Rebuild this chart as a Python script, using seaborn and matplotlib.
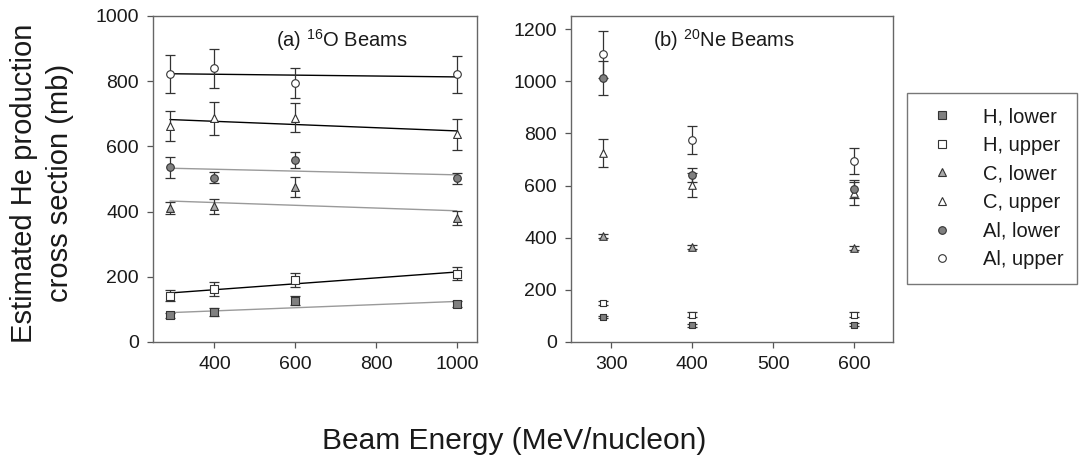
import numpy as np
import pandas as pd
import matplotlib
matplotlib.use("Agg")
import matplotlib.pyplot as plt
import seaborn as sns
from matplotlib.lines import Line2D

# ---- data ----
energy_o = [290, 400, 600, 1000]
o_h_lower = [82, 91, 126, 116]
o_h_lower_err = [8, 12, 14, 10]
o_h_upper = [142, 162, 191, 209]
o_h_upper_err = [17, 21, 22, 20]
o_c_lower = [411, 416, 475, 380]
o_c_lower_err = [17, 22, 30, 21]
o_c_upper = [663, 686, 688, 637]
o_c_upper_err = [45, 51, 45, 48]
o_al_lower = [536, 504, 558, 502]
o_al_lower_err = [33, 17, 24, 16]
o_al_upper = [821, 840, 794, 821]
o_al_upper_err = [58, 60, 45, 57]

energy_ne = [290, 400, 600]
ne_h_lower = [96, 64, 66]
ne_h_lower_err = [5, 5, 5]
ne_h_upper = [151, 105, 105]
ne_h_upper_err = [8, 10, 10]
ne_c_lower = [407, 364, 360]
ne_c_lower_err = [8, 8, 8]
ne_c_upper = [726, 602, 570]
ne_c_upper_err = [54, 45, 44]
ne_al_lower = [1012, 640, 588]
ne_al_lower_err = [65, 28, 35]
ne_al_upper = [1104, 775, 694]
ne_al_upper_err = [90, 53, 48]

series_names = ["H, lower", "H, upper", "C, lower", "C, upper", "Al, lower", "Al, upper"]

def long_df(energy, vals, errs):
    rows = []
    for name, v, e in zip(series_names, vals, errs):
        for x, y, er in zip(energy, v, e):
            rows.append({"energy": x, "value": y, "err": er, "series": name})
    return pd.DataFrame(rows)

df_o = long_df(energy_o,
               [o_h_lower, o_h_upper, o_c_lower, o_c_upper, o_al_lower, o_al_upper],
               [o_h_lower_err, o_h_upper_err, o_c_lower_err, o_c_upper_err, o_al_lower_err, o_al_upper_err])
df_ne = long_df(energy_ne,
                [ne_h_lower, ne_h_upper, ne_c_lower, ne_c_upper, ne_al_lower, ne_al_upper],
                [ne_h_lower_err, ne_h_upper_err, ne_c_lower_err, ne_c_upper_err, ne_al_lower_err, ne_al_upper_err])

# ---- style ----
sns.set_theme(style="ticks")
plt.rcParams["font.family"] = ["Liberation Sans", "DejaVu Sans"]
plt.rcParams["mathtext.fontset"] = "custom"
plt.rcParams["mathtext.rm"] = "Liberation Sans"
plt.rcParams["mathtext.it"] = "Liberation Sans:italic"
plt.rcParams["mathtext.bf"] = "Liberation Sans:bold"

markers = {"H": "s", "C": "^", "Al": "o"}
fills = {"H": "#808080", "C": "#a8a8a8", "Al": "#808080"}
style = {}
for n in series_names:
    el, kind = n.split(", ")
    style[n] = dict(marker=markers[el],
                    face=fills[el] if kind == "lower" else "white",
                    edge="#333333",
                    line="#000000" if kind == "upper" else "#9a9a9a",
                    ecolor="#333333")

fig = plt.figure(figsize=(10.86, 4.57), dpi=100)
ax1 = fig.add_axes([153/1086, 1-342/457, 324/1086, 326/457])
ax2 = fig.add_axes([571/1086, 1-342/457, 322/1086, 326/457])

def draw(ax, df, fit, sizes):
    for n in series_names:
        d = df[df["series"] == n]
        s = style[n]
        el = n.split(", ")[0]
        if fit:
            sns.regplot(data=d, x="energy", y="value", ax=ax, scatter=False, ci=None,
                        line_kws=dict(color=s["line"], lw=1.0, zorder=2))
        ax.errorbar(d["energy"], d["value"], yerr=d["err"], fmt="none",
                    ecolor=s["ecolor"], elinewidth=0.9, capsize=3.5, capthick=0.9, zorder=3)
        sns.scatterplot(data=d, x="energy", y="value", ax=ax, marker=s["marker"],
                        color=s["face"], edgecolor=s["edge"], linewidth=0.8,
                        s=sizes[el], zorder=4, legend=False)

draw(ax1, df_o, True, {"H": 26, "C": 32, "Al": 30})
draw(ax2, df_ne, False, {"H": 16, "C": 30, "Al": 30})

ax1.set_xlim(248, 1050)
ax1.set_ylim(0, 1000)
ax1.set_xticks([400, 600, 800, 1000])
ax1.set_yticks(range(0, 1001, 200))
ax2.set_xlim(250, 648)
ax2.set_ylim(0, 1250)
ax2.set_xticks([300, 400, 500, 600])
ax2.set_yticks(range(0, 1201, 200))

for ax in (ax1, ax2):
    ax.set_xlabel("")
    ax.set_ylabel("")
    for sp in ax.spines.values():
        sp.set_visible(True)
        sp.set_color("#666666")
        sp.set_linewidth(1.0)
    ax.tick_params(axis="both", labelsize=14, length=4, width=0.9,
                   color="#555555", labelcolor="#1a1a1a", pad=6)

ax1.text(0.38, 0.925, r"(a) $^{16}$O Beams", transform=ax1.transAxes,
         fontsize=14.5, va="center", ha="left", color="#1a1a1a")
ax2.text(0.254, 0.925, r"(b) $^{20}$Ne Beams", transform=ax2.transAxes,
         fontsize=14.5, va="center", ha="left", color="#1a1a1a")

fig.text(42/1086, 1-183/457, "Estimated He production\ncross section (mb)",
         rotation=90, ha="center", va="center", fontsize=21, color="#1a1a1a",
         linespacing=1.4)
fig.text(514/1086, 1-441/457, "Beam Energy (MeV/nucleon)", ha="center", va="center",
         fontsize=21.5, color="#1a1a1a")

handles = [Line2D([0], [0], marker=style[n]["marker"], linestyle="none",
                  markerfacecolor=style[n]["face"], markeredgecolor=style[n]["edge"],
                  markeredgewidth=0.8, markersize=5.5) for n in series_names]
leg = fig.legend(handles, series_names, loc="upper left",
                 bbox_to_anchor=(907/1086, 1-93/457), frameon=True, fancybox=False,
                 fontsize=14.5, labelspacing=0.48, handletextpad=0.95, borderpad=0.7,
                 handlelength=2.1, borderaxespad=0)
leg.get_frame().set_edgecolor("#555555")
leg.get_frame().set_linewidth(1.0)
for t in leg.get_texts():
    t.set_color("#1a1a1a")

fig.savefig("out.png", dpi=100)
